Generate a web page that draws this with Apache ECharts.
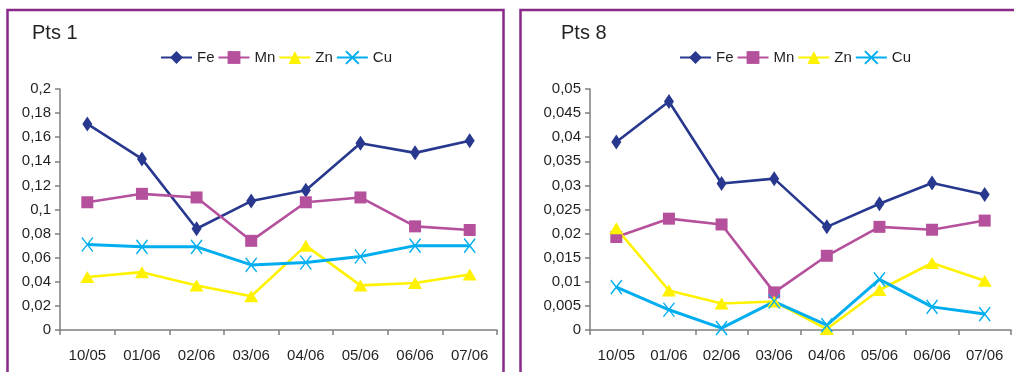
<!DOCTYPE html>
<html><head><meta charset="utf-8">
<script src="https://cdn.jsdelivr.net/npm/echarts@6/dist/echarts.min.js"></script>
<style>html,body{margin:0;padding:0;background:#fff}#c{width:1014px;height:372px}</style>
</head><body><div id="c"></div>
<script>
var categories = ['10/05','01/06','02/06','03/06','04/06','05/06','06/06','07/06'];
var seriesNames = ['Fe','Mn','Zn','Cu'];
// Pts 1
var fe1 = [0.171,0.142,0.084,0.107,0.116,0.155,0.147,0.157];
var mn1 = [0.106,0.113,0.110,0.074,0.106,0.110,0.086,0.083];
var zn1 = [0.044,0.048,0.037,0.028,0.070,0.037,0.039,0.046];
var cu1 = [0.071,0.069,0.069,0.054,0.056,0.061,0.070,0.070];
// Pts 8
var fe8 = [0.039,0.0474,0.0304,0.0314,0.0214,0.0262,0.0305,0.0281];
var mn8 = [0.0193,0.0231,0.0219,0.0078,0.0154,0.0214,0.0208,0.0227];
var zn8 = [0.0211,0.0082,0.0055,0.0059,0.0002,0.0083,0.0139,0.0102];
var cu8 = [0.0089,0.0042,0.0004,0.0059,0.0010,0.0105,0.0048,0.0033];
var yTicks1 = {min:0,max:0.2,interval:0.02};
var yTicks8 = {min:0,max:0.05,interval:0.005};

var colors = {Fe:'#27388e',Mn:'#b5509c',Zn:'#fff200',Cu:'#00aeef'};
var xPath = 'path://M0,0L10,12M10,0L0,12';
function mk(name, data, gi){
  var s = {name:name,type:'line',xAxisIndex:gi,yAxisIndex:gi,data:data,
    lineStyle:{color:colors[name],width:2.6},itemStyle:{color:colors[name]},
    symbolKeepAspect:false,silent:true,animation:false,z:2};
  if(name==='Fe'){s.symbol='diamond';s.symbolSize=[10,15];}
  if(name==='Mn'){s.symbol='rect';s.symbolSize=[12,12];}
  if(name==='Zn'){s.symbol='triangle';s.symbolSize=[14,12];}
  if(name==='Cu'){s.symbol=xPath;s.symbolSize=[11,14];s.lineStyle.width=3;
    s.itemStyle={color:'rgba(0,0,0,0)',borderColor:colors[name],borderWidth:1.4};}
  return s;
}
function fmt(v){return String(Math.round(v*100000)/100000).replace('.',',');}
var txt = '#231f20', axisCol = '#7f7f7f';
var ff = 'Liberation Sans, Arial';
function xAx(gi){return {type:'category',gridIndex:gi,data:categories,boundaryGap:true,
  axisLine:{lineStyle:{color:axisCol,width:1.5}},axisTick:{show:true,length:5,lineStyle:{color:axisCol,width:1.5}},
  axisLabel:{color:txt,fontSize:15,fontFamily:ff,margin:18,interval:0}};}
function yAx(gi,t){return {type:'value',gridIndex:gi,min:t.min,max:t.max,interval:t.interval,
  axisLine:{show:true,lineStyle:{color:axisCol,width:1.5}},axisTick:{show:true,length:5,lineStyle:{color:axisCol,width:1.5}},
  splitLine:{show:false},axisLabel:{color:txt,fontSize:15,fontFamily:ff,margin:9,formatter:fmt}};}
var legText = {color:txt,fontSize:15,fontFamily:ff};
var chart = echarts.init(document.getElementById('c'),null,{renderer:'canvas'});
chart.setOption({
  animation:false,
  backgroundColor:'#fff',
  title:[
    {text:'Pts 1',left:32,top:23,padding:0,textStyle:{color:txt,fontSize:20,fontWeight:'normal',fontFamily:ff}},
    {text:'Pts 8',left:561,top:23,padding:0,textStyle:{color:txt,fontSize:20,fontWeight:'normal',fontFamily:ff}}
  ],
  legend:[
    {data:seriesNames,left:160,top:50,padding:0,itemWidth:31,itemHeight:16,itemGap:3,textStyle:legText,selectedMode:false},
    {data:seriesNames,left:679,top:50,padding:0,itemWidth:31,itemHeight:16,itemGap:3,textStyle:legText,selectedMode:false}
  ],
  graphic:[
    {type:'rect',shape:{x:7.5,y:10,width:496,height:380},style:{fill:'none',stroke:'#88298a',lineWidth:2.5},silent:true},
    {type:'rect',shape:{x:520.5,y:10,width:520,height:380},style:{fill:'none',stroke:'#88298a',lineWidth:2.5},silent:true}
  ],
  grid:[
    {left:60,top:89,width:437,height:241},
    {left:590,top:89,width:421,height:241}
  ],
  xAxis:[xAx(0),xAx(1)],
  yAxis:[yAx(0,yTicks1),yAx(1,yTicks8)],
  series:[
    mk('Fe',fe1,0),mk('Mn',mn1,0),mk('Zn',zn1,0),mk('Cu',cu1,0),
    mk('Fe',fe8,1),mk('Mn',mn8,1),mk('Zn',zn8,1),mk('Cu',cu8,1)
  ]
});
</script></body></html>
